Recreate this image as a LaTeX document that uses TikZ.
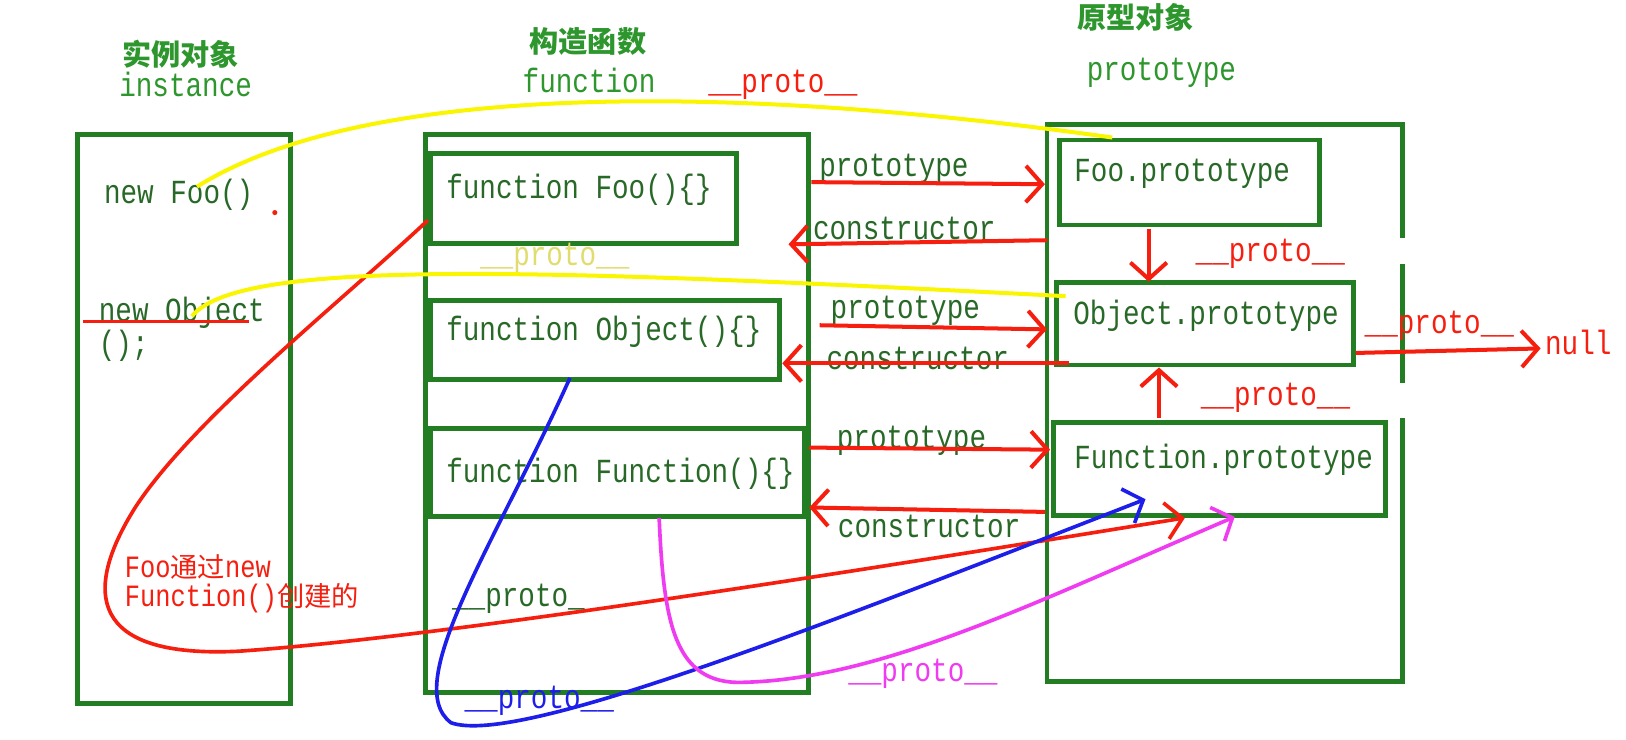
\documentclass[tikz,border=0pt]{standalone}
\usepackage{fontspec}
\newfontfamily\lat{Liberation Mono}[FakeStretch=0.82]
\newfontfamily\cjk{Noto Sans CJK SC}
\usetikzlibrary{arrows.meta,calc,fit}
\definecolor{gbox}{RGB}{35,125,35}
\definecolor{gtxt}{RGB}{40,105,40}
\definecolor{gtitle}{RGB}{45,150,45}
\definecolor{rline}{RGB}{245,30,15}
\definecolor{yline}{RGB}{250,245,0}
\definecolor{ytxt}{RGB}{225,220,110}
\definecolor{bline}{RGB}{30,30,235}
\definecolor{mline}{RGB}{240,60,240}
\begin{document}
\begin{tikzpicture}[x=0.02cm,y=-0.02cm,
  box/.style={draw=gbox,line width=2.7pt,inner sep=0pt},
  txt/.style={font=\lat\fontsize{18.5}{21}\selectfont,inner sep=0pt},
  gt/.style={txt,text=gtxt},
  rt/.style={txt,text=rline},
  cn/.style={font=\cjk\bfseries\fontsize{16}{18}\selectfont,text=gtitle,inner sep=0pt},
  rarr/.style={draw=rline,line width=2.2pt,-{Straight Barb[length=9pt,width=20pt]}},
  curve/.style={line width=2pt,-{Straight Barb[length=9pt,width=20pt]}}]
\useasboundingbox (0,0) rectangle (1568,713);
\fill[white] (0,0) rectangle (1568,713);
% titles
\node[cn] (tinstcn) at (174,52) {实例对象};
\node[txt,text=gtitle] (tinst) at (179,81) {instance};
\node[cn] (tfncn) at (567,40) {构造函数};
\node[txt,text=gtitle] (tfn) at (568,78) {function};
\node[rt] (ttop) at (755,82) {\_\_proto\_\_};
\node[cn] (tprcn) at (1095,17) {原型对象};
\node[txt,text=gtitle] (tpr) at (1120,70) {prototype};
% boxes
\node[box,fit={(75,130) (280,678)}] (inst) {};
\node[box,fit={(410,130) (780,668)}] (fbox) {};
\node[box,fit={(415,148) (710,235)}] (ffoo) {};
\node[box,fit={(415,290) (752,366)}] (fobj) {};
\node[box,fit={(415,413) (776,498)}] (ffun) {};
\node[inner sep=0pt,fit={(1010,120) (1352,657)}] (pbox) {};
\draw[gbox,line width=2.7pt] ($(pbox.north east)+(0,110)$) -- (pbox.north east) -- (pbox.north west) -- (pbox.south west) -- (pbox.south east) -- ($(pbox.south east)+(0,-254)$);
\draw[gbox,line width=2.7pt] ($(pbox.north east)+(0,135)$) -- ($(pbox.north east)+(0,250)$);
\node[box,fit={(1022,135) (1272,217)}] (pfoo) {};
\node[box,fit={(1019,272) (1305,352)}] (pobj) {};
\node[box,fit={(1016,407) (1336,497)}] (pfun) {};
% box texts
\node[gt,anchor=west] (newfoo) at (100,188) {new Foo()};
\node[gt,anchor=north west,align=left,font=\lat\fontsize{18.5}{15.5}\selectfont] (newobj) at (95,286) {new Object\\();};
\node[gt,anchor=west] (tfoo) at (430,183) {function Foo()\{\}};
\node[gt,anchor=west] (tobj) at (430,320) {function Object()\{\}};
\node[gt,anchor=west] (tfun) at (430,457) {function Function()\{\}};
\node[gt] (tpfoo) at (1140,168) {Foo.prototype};
\node[gt] (tpobj) at (1163,305) {Object.prototype};
\node[gt] (tpfun) at (1180,443) {Function.prototype};
% edge labels
\node[gt] (lp1) at (862,163) {prototype};
\node[gt] (lc1) at (872,220) {constructor};
\node[gt] (lp2) at (873,300) {prototype};
\node[gt] (lc2) at (885,346) {constructor};
\node[gt] (lp3) at (879,425) {prototype};
\node[gt] (lc3) at (896,508) {constructor};
\node[rt] (lpr1) at (1225,245) {\_\_proto\_\_};
\node[rt] (lpr2) at (1230,384) {\_\_proto\_\_};
\node[rt] (lpr3) at (1388,314) {\_\_proto\_\_};
\node[rt] (null) at (1522,330) {null};
\node[txt,text=ytxt] (lyel) at (535,249) {\_\_proto\_\_};
\node[gt] (lgrn) at (500,577) {\_\_proto\_};
\node[txt,text=bline] (lblu) at (520,676) {\_\_proto\_\_};
\node[txt,text=mline] (lmag) at (890,650) {\_\_proto\_\_};
\node[txt,text=rline,anchor=west,align=left,font=\lat\fontsize{17}{16}\selectfont] (lfoo) at (120,563) {Foo{\cjk\fontsize{15}{16}\selectfont 通过}new\\Function(){\cjk\fontsize{15}{16}\selectfont 创建的}};
% red marks
\fill[rline] (265,205) circle (1.4pt);
\draw[rline,line width=2pt] ($(newobj.north west)+(-15,24)$) -- ($(newobj.north west)+(145,24)$);
% straight arrows
\draw[rarr] ($(fbox.north east)+(0,48)$) -- ($(pbox.north west)+(-2,58)$);
\draw[rarr] ($(pbox.north west)+(0,112)$) -- ($(fbox.north east)+(-22,108)$);
\draw[rarr] ($(fbox.north east)+(8,186)$) -- ($(pbox.north west)+(0,198)$);
\draw[rarr] ($(pobj.south west)+(14,-4)$) -- ($(fobj.south east)+(0,-18)$);
\draw[rarr] ($(ffun.north east)+(2,21)$) -- ($(pfun.north west)+(-1,29)$);
\draw[rarr] ($(pbox.north west)+(-2,374)$) -- ($(ffun.south east)+(2,-11)$);
\draw[rarr] ($(pfoo.south west)+(88,1)$) -- ($(pobj.north west)+(91,2)$);
\draw[rarr] ($(pfun.north west)+(104,-2)$) -- ($(pobj.south west)+(101,0)$);
\draw[rarr] ($(pobj.south east)+(0,-14)$) -- ($(null.west)+(-4,6)$);
% curves
\draw[curve,draw=rline] ($(ffoo.south west)+(0,-25)$) .. controls (330,290) and (185,405) .. (130,490)
  .. controls (80,570) and (85,635) .. (230,628)
  .. controls (420,615) and (800,555) .. ($(pfun.south west)+(129,0)$);
\draw[curve,draw=bline] ($(fobj.south west)+(137,-4)$) .. controls (480,520) and (385,660) .. (435,697)
  .. controls (500,720) and (800,600) .. ($(pfun.south west)+(91,-18)$);
\draw[curve,draw=mline] ($(ffun.south west)+(223,-1)$) .. controls (640,600) and (650,660) .. (716,658)
  .. controls (850,655) and (1000,580) .. ($(pfun.south west)+(177,-1)$);
\draw[yline,line width=2.2pt] ($(newfoo.west)+(90,-8)$) .. controls (350,80) and (700,80) .. ($(pfoo.north west)+(53,0)$);
\draw[yline,line width=2.2pt] ($(newobj.north west)+(90,19)$) .. controls (230,250) and (500,258) .. ($(pobj.north west)+(11,16)$);
\end{tikzpicture}
\end{document}
